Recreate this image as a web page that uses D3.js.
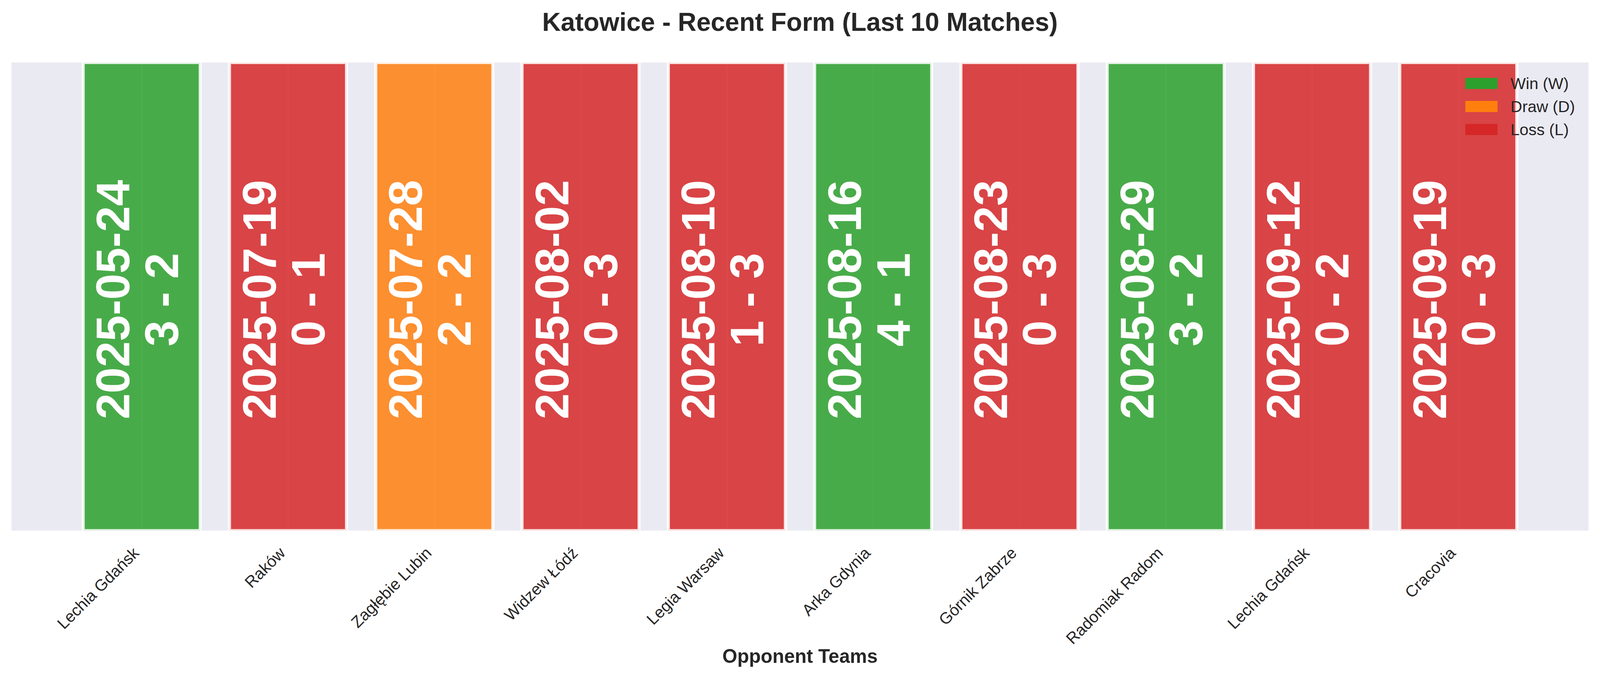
<!DOCTYPE html>
<html>
<head>
<meta charset="utf-8">
<script src="https://cdn.jsdelivr.net/npm/d3@7"></script>
<style>
  html, body { margin: 0; padding: 0; background: #fff; overflow: hidden; }
  svg { display: block; width: 100vw; height: 100vh; font-family: "Liberation Sans", Arial, sans-serif; }
</style>
</head>
<body>
<svg id="chart" viewBox="0 0 4170 1769" preserveAspectRatio="xMidYMin meet"></svg>
<script>
// match data, oldest first
const opponents = ['Lechia Gdańsk', 'Raków', 'Zagłębie Lubin', 'Widzew Łódź', 'Legia Warsaw',
  'Arka Gdynia', 'Górnik Zabrze', 'Radomiak Radom', 'Lechia Gdańsk', 'Cracovia'];
const dates = ['2025-05-24', '2025-07-19', '2025-07-28', '2025-08-02', '2025-08-10',
  '2025-08-16', '2025-08-23', '2025-08-29', '2025-09-12', '2025-09-19'];
const scores = ['3 - 2', '0 - 1', '2 - 2', '0 - 3', '1 - 3', '4 - 1', '0 - 3', '3 - 2', '0 - 2', '0 - 3'];
const results = ['W', 'L', 'D', 'L', 'L', 'W', 'L', 'W', 'L', 'L'];

const legendKeys = ['W', 'D', 'L'];
const legendLabels = ['Win (W)', 'Draw (D)', 'Loss (L)'];
const resultColors = { W: '#2ca02c', D: '#ff7f0e', L: '#d62728' };

const svg = d3.select('#chart');
const ink = '#262626';

// plot area (pixels)
const plotLeft = 30, plotRight = 4140, plotTop = 163, plotBottom = 1383;

const x = d3.scaleLinear().domain([-0.89, 9.89]).range([plotLeft, plotRight]);
const y = d3.scaleLinear().domain([0, 1]).range([plotBottom, plotTop]);

svg.append('defs').append('clipPath').attr('id', 'plot-clip')
  .append('rect')
  .attr('x', plotLeft).attr('y', plotTop)
  .attr('width', plotRight - plotLeft).attr('height', plotBottom - plotTop);

svg.append('rect')
  .attr('x', plotLeft).attr('y', plotTop)
  .attr('width', plotRight - plotLeft).attr('height', plotBottom - plotTop)
  .attr('fill', '#eaeaf2');

// vertical grid, sits under the bars
const grid = svg.append('g')
  .attr('transform', `translate(0,${plotBottom})`)
  .call(d3.axisBottom(x).tickValues(d3.range(opponents.length)).tickSize(-(plotBottom - plotTop)).tickFormat(''));
grid.select('.domain').remove();
grid.selectAll('line').attr('stroke', '#fff').attr('stroke-width', 4);

const plot = svg.append('g').attr('clip-path', 'url(#plot-clip)');

plot.selectAll('rect.bar')
  .data(results)
  .join('rect')
  .attr('class', 'bar')
  .attr('x', (d, i) => x(i - 0.4))
  .attr('width', x(0.4) - x(-0.4))
  .attr('y', y(1))
  .attr('height', y(0) - y(1))
  .attr('fill', (d) => resultColors[d])
  .attr('fill-opacity', 0.85)
  .attr('stroke', '#fff')
  .attr('stroke-opacity', 0.85)
  .attr('stroke-width', 8);

// date + score, rotated inside each bar
const midY = (y(0) + y(1)) / 2 + 8;
const labels = svg.append('g');
dates.forEach((date, i) => {
  const cx = x(i);
  labels.append('text')
    .attr('transform', `translate(${cx - 32},${midY}) rotate(-90)`)
    .attr('text-anchor', 'middle')
    .attr('fill', '#fff')
    .attr('font-weight', 'bold')
    .attr('font-size', 122)
    .text(date);
  labels.append('text')
    .attr('transform', `translate(${cx + 95},${midY}) rotate(-90)`)
    .attr('text-anchor', 'middle')
    .attr('fill', '#fff')
    .attr('font-weight', 'bold')
    .attr('font-size', 122)
    .attr('xml:space', 'preserve')
    .text(scores[i]);
});

// x axis with team names
const xAxis = svg.append('g')
  .attr('transform', `translate(0,${plotBottom})`)
  .call(d3.axisBottom(x).tickValues(d3.range(opponents.length)).tickSize(0).tickFormat((i) => opponents[i]));
xAxis.select('.domain').remove();
xAxis.selectAll('text')
  .attr('x', 0).attr('y', 0).attr('dy', 0)
  .attr('transform', 'translate(-5,61) rotate(-45)')
  .attr('text-anchor', 'end')
  .attr('font-family', '"Liberation Sans", Arial, sans-serif')
  .attr('font-size', 42)
  .attr('fill', ink);

svg.append('text')
  .attr('x', (plotLeft + plotRight) / 2).attr('y', 1728)
  .attr('text-anchor', 'middle')
  .attr('font-weight', 'bold')
  .attr('font-size', 50)
  .attr('fill', ink)
  .text('Opponent Teams');

svg.append('text')
  .attr('x', (plotLeft + plotRight) / 2).attr('y', 80)
  .attr('text-anchor', 'middle')
  .attr('font-weight', 'bold')
  .attr('font-size', 67)
  .attr('fill', ink)
  .text('Katowice - Recent Form (Last 10 Matches)');

// legend, upper right, no frame
const legend = svg.append('g').attr('transform', 'translate(3819,203)');
legendKeys.forEach((k, i) => {
  const row = legend.append('g').attr('transform', `translate(0,${i * 60})`);
  row.append('rect')
    .attr('width', 84).attr('height', 29)
    .attr('fill', resultColors[k]);
  row.append('text')
    .attr('x', 118).attr('y', 29)
    .attr('font-size', 42)
    .attr('fill', ink)
    .text(legendLabels[i]);
});
</script>
</body>
</html>
